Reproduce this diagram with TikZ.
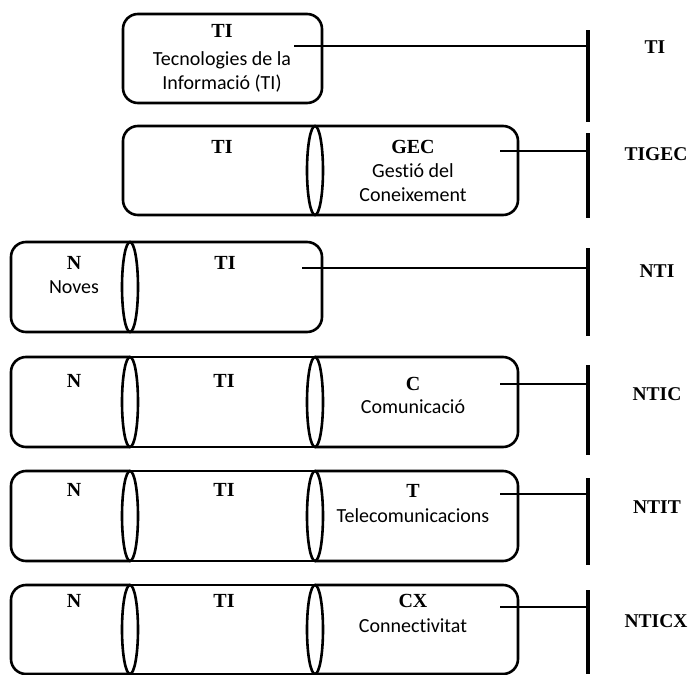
\documentclass[tikz,border=0pt]{standalone}
\usepackage{fontspec}
\setmainfont{Liberation Serif}
\newfontfamily\descfont[Ligatures={NoCommon}]{Carlito}
\begin{document}
\begin{tikzpicture}[x=1pt,y=-1pt,
  boxline/.style={draw, line width=2.6pt},
  rbox/.style={boxline, rounded corners=15pt},
  ttl/.style={font=\bfseries\fontsize{20}{24}\selectfont, inner sep=0pt},
  dsc/.style={font=\descfont\fontsize{20}{24}\selectfont, align=center, inner sep=0pt},
  lab/.style={font=\bfseries\fontsize{19.5}{24}\selectfont, inner sep=0pt},
  conn/.style={line width=2.6pt},
  barline/.style={line width=3.4pt}]
\useasboundingbox (0,0) rectangle (689,675);
% ---------- Row 1
\draw[rbox] (123,14) rectangle (322,103);
\node[ttl] (r1t) at (222,31) {TI};
\node[dsc] (r1d) at (222,72) {Tecnologies de la\\Informació (TI)};
\coordinate (r1s) at (294,46);
\coordinate (r1bt) at (588,30); \coordinate (r1bb) at (588,122); \coordinate (r1e) at (588,46);
\draw[barline] (r1bt) -- (r1bb);
\draw[conn] (r1s) -- (r1e);
\node[lab] (r1l) at (655,47) {TI};
% ---------- Row 2
\draw[rbox] (315,126) -- (123,126) -- (123,215) -- (315,215);
\draw[rbox] (315,126) -- (518,126) -- (518,215) -- (315,215);
\draw[boxline] (315,170.5) ellipse [x radius=8pt, y radius=44.5pt];
\node[ttl] (r2t1) at (222,147) {TI};
\node[ttl] (r2t2) at (413,147) {GEC};
\node[dsc] (r2d) at (413,183) {Gestió del\\Coneixement};
\coordinate (r2s) at (500,151);
\coordinate (r2bt) at (588,133); \coordinate (r2bb) at (588,218); \coordinate (r2e) at (588,151);
\draw[barline] (r2bt) -- (r2bb);
\draw[conn] (r2s) -- (r2e);
\node[lab] (r2l) at (656,154) {TIGEC};
% ---------- Row 3
\draw[rbox] (130,242) -- (11,242) -- (11,332) -- (130,332);
\draw[rbox] (130,242) -- (322,242) -- (322,332) -- (130,332);
\draw[boxline] (130,287) ellipse [x radius=8pt, y radius=45pt];
\node[ttl] (r3t1) at (74,263) {N};
\node[dsc] (r3d) at (74,287) {Noves};
\node[ttl] (r3t2) at (225,263) {TI};
\coordinate (r3s) at (302,268);
\coordinate (r3bt) at (588,248); \coordinate (r3bb) at (588,336); \coordinate (r3e) at (588,268);
\draw[barline] (r3bt) -- (r3bb);
\draw[conn] (r3s) -- (r3e);
\node[lab] (r3l) at (657,271) {NTI};
% ---------- Rows 4-6 (three boxes)
\foreach \T/\B in {357/447, 471/561, 585/674}{
  \pgfmathsetmacro{\M}{(\T+\B)/2}
  \pgfmathsetmacro{\R}{(\B-\T)/2}
  \draw[rbox] (130,\T) -- (11,\T) -- (11,\B) -- (130,\B);
  \draw[boxline] (130,\T) -- (315,\T) (130,\B) -- (315,\B);
  \draw[rbox] (315,\T) -- (518,\T) -- (518,\B) -- (315,\B);
  \draw[boxline] (130,\M) ellipse [x radius=8pt, y radius=\R pt];
  \draw[boxline] (315,\M) ellipse [x radius=8pt, y radius=\R pt];
}
% Row 4
\node[ttl] (r4t1) at (74,381) {N};
\node[ttl] (r4t2) at (224,381) {TI};
\node[ttl] (r4t3) at (413,384) {C};
\node[dsc] (r4d) at (413,407) {Comunicació};
\coordinate (r4s) at (500,384);
\coordinate (r4bt) at (588,365); \coordinate (r4bb) at (588,455); \coordinate (r4e) at (588,384);
\draw[barline] (r4bt) -- (r4bb);
\draw[conn] (r4s) -- (r4e);
\node[lab] (r4l) at (657,394) {NTIC};
% Row 5
\node[ttl] (r5t1) at (74,490) {N};
\node[ttl] (r5t2) at (224,490) {TI};
\node[ttl] (r5t3) at (413,491) {T};
\node[dsc] (r5d) at (413,516) {Telecomunicacions};
\coordinate (r5s) at (500,494);
\coordinate (r5bt) at (588,478); \coordinate (r5bb) at (588,565); \coordinate (r5e) at (588,494);
\draw[barline] (r5bt) -- (r5bb);
\draw[conn] (r5s) -- (r5e);
\node[lab] (r5l) at (657,507) {NTIT};
% Row 6
\node[ttl] (r6t1) at (74,601) {N};
\node[ttl] (r6t2) at (224,601) {TI};
\node[ttl] (r6t3) at (413,601) {CX};
\node[dsc] (r6d) at (413,626) {Connectivitat};
\coordinate (r6s) at (500,607);
\coordinate (r6bt) at (588,590); \coordinate (r6bb) at (588,674); \coordinate (r6e) at (588,607);
\draw[barline] (r6bt) -- (r6bb);
\draw[conn] (r6s) -- (r6e);
\node[lab] (r6l) at (656,621) {NTICX};
\end{tikzpicture}
\end{document}
